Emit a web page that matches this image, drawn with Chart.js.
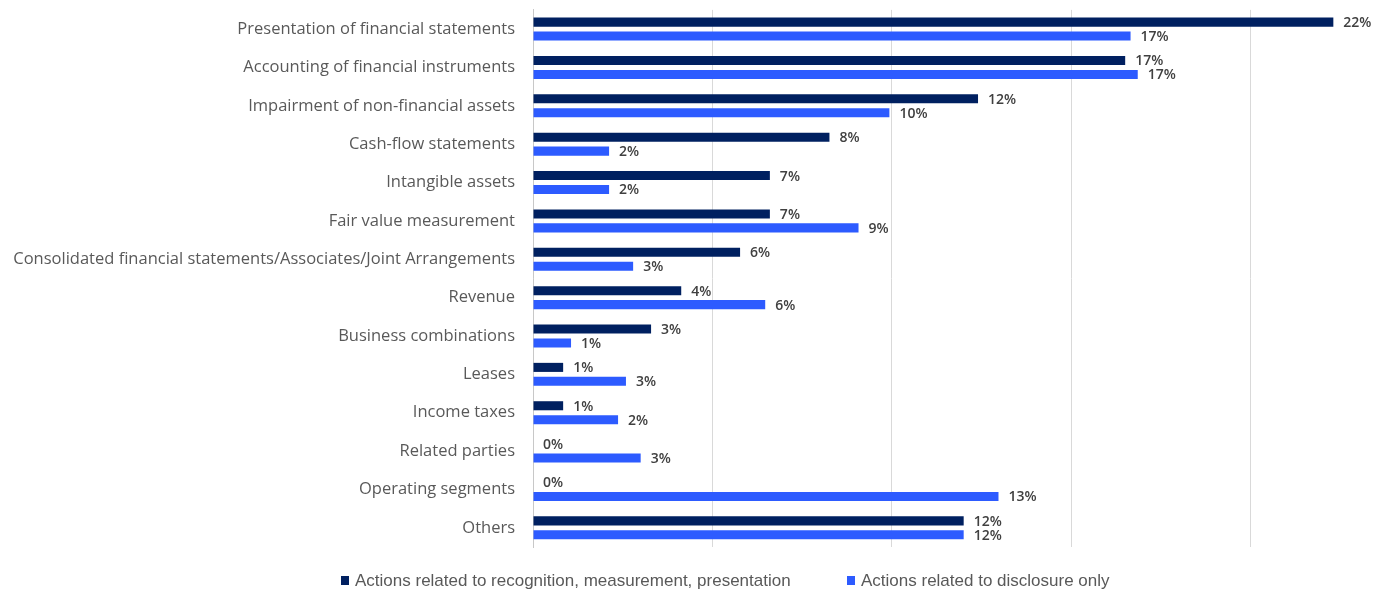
<!DOCTYPE html>
<html>
<head>
<meta charset="utf-8">
<script src="https://cdn.jsdelivr.net/npm/chart.js@4/dist/chart.umd.min.js"></script>
<style>
  html, body { margin: 0; padding: 0; background: #ffffff; }
  #wrap { width: 1384px; height: 590px; position: relative; }
</style>
</head>
<body>
<div id="wrap"><canvas id="chart" width="1384" height="590"></canvas></div>
<script>
// Topics of enforcement actions, share of actions per topic (%)
const categories = [
  "Presentation of financial statements",
  "Accounting of financial instruments",
  "Impairment of non-financial assets",
  "Cash-flow statements",
  "Intangible assets",
  "Fair value measurement",
  "Consolidated financial statements/Associates/Joint Arrangements",
  "Revenue",
  "Business combinations",
  "Leases",
  "Income taxes",
  "Related parties",
  "Operating segments",
  "Others"
];

const recognitionLabel = "Actions related to recognition, measurement, presentation";
const disclosureLabel = "Actions related to disclosure only";

const recognition = [22.3, 16.5, 12.4, 8.26, 6.6, 6.6, 5.77, 4.13, 3.29, 0.84, 0.84, 0, 0, 12.0];
const disclosure  = [16.65, 16.85, 9.93, 2.12, 2.12, 9.07, 2.79, 6.47, 1.06, 2.59, 2.37, 3.0, 12.97, 12.0];

const NAVY = "#002060";
const BLUE = "#2D5BFF";
const LABEL_FONT = "'Open Sans', sans-serif";

// Percent labels at the end of every bar
const valueLabels = {
  id: "valueLabels",
  afterDatasetsDraw(chart) {
    const ctx = chart.ctx;
    ctx.save();
    ctx.font = "600 14px " + LABEL_FONT;
    ctx.fillStyle = "#404040";
    ctx.textAlign = "left";
    ctx.textBaseline = "middle";
    chart.data.datasets.forEach((ds, i) => {
      chart.getDatasetMeta(i).data.forEach((bar, j) => {
        const v = ds.data[j];
        ctx.fillText(Math.round(v) + "%", bar.x + 10, bar.y + 1);
      });
    });
    ctx.restore();
  }
};

// Legend row under the plot
const bottomLegend = {
  id: "bottomLegend",
  afterDraw(chart) {
    const ctx = chart.ctx;
    const y = 580;
    const items = [
      { x: 341, color: NAVY, text: recognitionLabel },
      { x: 847, color: BLUE, text: disclosureLabel }
    ];
    ctx.save();
    ctx.font = "17px 'Liberation Sans Narrow', sans-serif";
    ctx.textBaseline = "middle";
    ctx.textAlign = "left";
    items.forEach(it => {
      ctx.fillStyle = it.color;
      ctx.fillRect(it.x, y - 4, 8, 9);
      ctx.fillStyle = "#595959";
      ctx.fillText(it.text, it.x + 14, y + 1);
    });
    ctx.restore();
  }
};

new Chart(document.getElementById("chart"), {
  type: "bar",
  data: {
    labels: categories,
    datasets: [
      { label: recognitionLabel, data: recognition, backgroundColor: NAVY },
      { label: disclosureLabel, data: disclosure, backgroundColor: BLUE }
    ]
  },
  options: {
    indexAxis: "y",
    responsive: false,
    animation: false,
    devicePixelRatio: 1,
    layout: { padding: { top: 8, right: 4, bottom: 43, left: 0 } },
    datasets: { bar: { categoryPercentage: 0.727, barPercentage: 0.65 } },
    scales: {
      x: {
        min: 0,
        max: 23.6,
        ticks: { display: false, stepSize: 5, includeBounds: false },
        grid: { color: "#d9d9d9", lineWidth: 1, drawTicks: false },
        border: { display: false },
        afterFit(scale) { scale.height = 0; }
      },
      y: {
        ticks: {
          color: "#595959",
          font: { family: LABEL_FONT, size: 16.5 },
          padding: 0
        },
        grid: { display: false, drawTicks: true, tickLength: 18, tickColor: "rgba(0,0,0,0)" },
        border: { display: true, color: "#c8c8c8" },
        afterFit(scale) { scale.width = 533; }
      }
    },
    plugins: {
      legend: { display: false },
      tooltip: { enabled: false }
    }
  },
  plugins: [valueLabels, bottomLegend]
});
</script>
</body>
</html>
